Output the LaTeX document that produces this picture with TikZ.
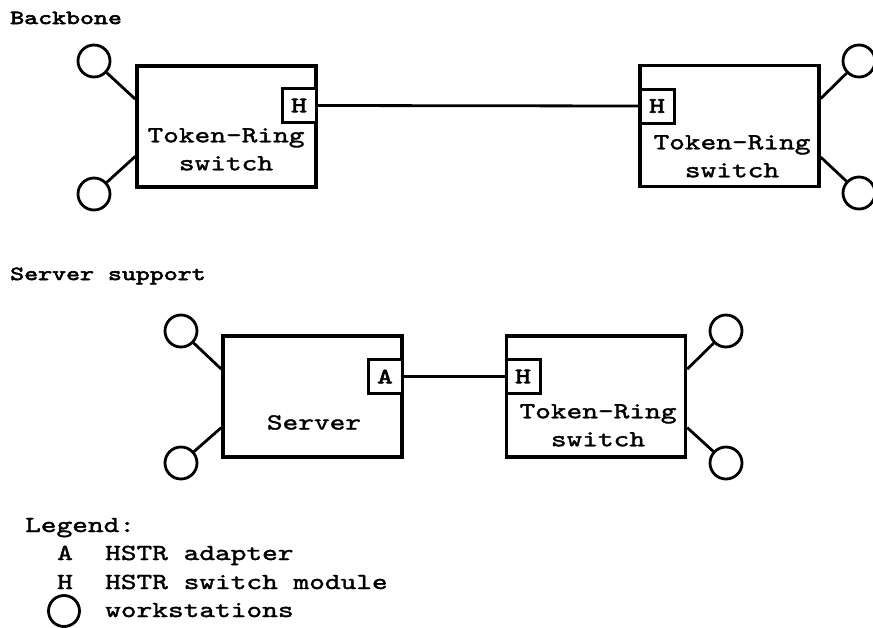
\documentclass[tikz,border=0pt]{standalone}
\usepackage{fontspec}
\usetikzlibrary{calc}
\newfontfamily\diafont{lmmono10-regular.otf}[FakeStretch=1.3,FakeBold=1.6]
\newfontfamily\diabold{lmmono10-regular.otf}[FakeStretch=1.33,FakeBold=3]
\newfontfamily\modfont{lmmono10-regular.otf}[FakeStretch=1.35,FakeBold=3]

\begin{document}
\begin{tikzpicture}[x=1pt,y=-1pt,
  unit/.style={draw,line width=3.4pt,minimum width=179pt,minimum height=121pt,inner sep=0pt},
  module/.style={draw,line width=3pt,fill=white,minimum size=34pt,inner sep=0pt,font=\modfont\fontsize{22}{22}\selectfont},
  ws/.style={draw,circle,line width=2.8pt,minimum size=32pt,inner sep=0pt},
  txt/.style={font=\diafont\fontsize{23}{28}\selectfont,inner sep=0pt,align=center,anchor=north},
  legtxt/.style={font=\diafont\fontsize{23}{28}\selectfont,inner sep=0pt,anchor=base west},
  head/.style={font=\diabold\fontsize{20}{22}\selectfont,inner sep=0pt,anchor=base west},
  link/.style={line width=2.8pt}]
\useasboundingbox (0,0) rectangle (873,627);
\clip (0,0) rectangle (873,627);

% Backbone
\node[head] (backbone) at (10,24) {Backbone};
\node[unit] (tr1) at (226.5,126.5) {};
\node[unit] (tr2) at (729.5,126) {};
\node[module] (h1) at (299,105.5) {H};
\node[module] (h2) at (657,106) {H};
\node[txt] (tr1txt) at (226,128) {Token-Ring\\switch};
\node[txt] (tr2txt) at (732,135) {Token-Ring\\switch};
\draw[link] (h1.east) -- (h2.west);
\node[ws] (w1) at (94,61) {};
\node[ws] (w2) at (94,194) {};
\node[ws] (w3) at (859,61) {};
\node[ws] (w4) at (859,193) {};
\draw[link] (w1) -- ($(tr1.north west)!0.28!(tr1.south west)$);
\draw[link] (w2) -- ($(tr1.north west)!0.74!(tr1.south west)$);
\draw[link] (w3) -- ($(tr2.north east)!0.28!(tr2.south east)$);
\draw[link] (w4) -- ($(tr2.north east)!0.75!(tr2.south east)$);

% Server support
\node[head] (support) at (10,280) {Server support};
\node[unit] (srv) at (312.5,396.5) {};
\node[unit] (tr3) at (596,396.5) {};
\node[module] (a1) at (385,376.5) {A};
\node[module] (h3) at (523,376.5) {H};
\node[txt] (srvtxt) at (314,415) {Server};
\node[txt] (tr3txt) at (598,404) {Token-Ring\\switch};
\draw[link] (a1.east) -- (h3.west);
\node[ws] (w5) at (181,331) {};
\node[ws] (w6) at (181,463) {};
\node[ws] (w7) at (726,331) {};
\node[ws] (w8) at (726,463) {};
\draw[link] (w5) -- ($(srv.north west)!0.28!(srv.south west)$);
\draw[link] (w6) -- ($(srv.north west)!0.75!(srv.south west)$);
\draw[link] (w7) -- ($(tr3.north east)!0.28!(tr3.south east)$);
\draw[link] (w8) -- ($(tr3.north east)!0.75!(tr3.south east)$);

% Legend
\node[legtxt] (legend) at (25,532) {Legend:};
\node[legtxt,anchor=base] (keya) at (65,560) {A};
\node[legtxt] (keyatxt) at (105,560) {HSTR adapter};
\node[legtxt,anchor=base] (keyh) at (65,589) {H};
\node[legtxt] (keyhtxt) at (105,589) {HSTR switch module};
\node[ws,minimum size=31pt] (keyw) at (64,611) {};
\node[legtxt] (keywtxt) at (105,617) {workstations};
\end{tikzpicture}
\end{document}
